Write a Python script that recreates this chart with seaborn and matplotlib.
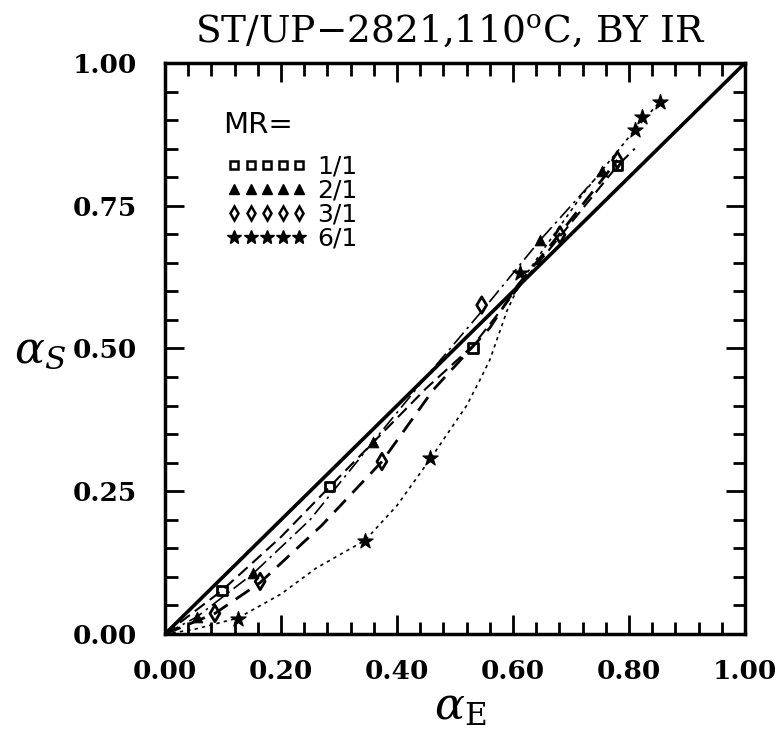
import matplotlib
matplotlib.use("Agg")
from matplotlib import pyplot as plt
from matplotlib.lines import Line2D
from matplotlib.ticker import MultipleLocator
import seaborn as sns

sq_x = [0.098, 0.284, 0.531, 0.780]
sq_y = [0.076, 0.258, 0.501, 0.820]
tri_x = [0.055, 0.152, 0.359, 0.647, 0.753]
tri_y = [0.030, 0.106, 0.337, 0.690, 0.810]
dia_x = [0.086, 0.164, 0.374, 0.546, 0.681, 0.780]
dia_y = [0.036, 0.092, 0.302, 0.576, 0.699, 0.830]
star_x = [0.126, 0.345, 0.457, 0.612, 0.810, 0.822, 0.853]
star_y = [0.027, 0.162, 0.308, 0.632, 0.883, 0.905, 0.932]

# fitted curves
c11_x = [0.0, 0.098, 0.20, 0.284, 0.45, 0.531, 0.62, 0.70, 0.78, 0.81]
c11_y = [0.0, 0.076, 0.17, 0.258, 0.43, 0.505, 0.62, 0.72, 0.82, 0.85]
c21_x = [0.0, 0.055, 0.152, 0.25, 0.359, 0.45, 0.55, 0.647, 0.753]
c21_y = [0.0, 0.030, 0.106, 0.20, 0.337, 0.45, 0.57, 0.690, 0.810]
c31_x = [0.0, 0.086, 0.164, 0.27, 0.374, 0.462, 0.56, 0.606, 0.68, 0.78]
c31_y = [0.0, 0.036, 0.090, 0.19, 0.302, 0.427, 0.536, 0.608, 0.70, 0.83]
c61_x = [0.0, 0.05, 0.126, 0.20, 0.26, 0.345, 0.40, 0.457, 0.52, 0.543, 0.56, 0.59, 0.612, 0.65, 0.72, 0.81, 0.853]
c61_y = [0.0, 0.008, 0.028, 0.07, 0.115, 0.164, 0.225, 0.306, 0.40, 0.445, 0.48, 0.567, 0.614, 0.67, 0.77, 0.883, 0.932]
diag = [0.0, 1.0]

labels = ["1/1", "2/1", "3/1", "6/1"]

sns.set_style("ticks")
plt.rcParams["mathtext.fontset"] = "dejavuserif"
plt.rcParams["text.color"] = "black"
plt.rcParams["xtick.color"] = "black"
plt.rcParams["ytick.color"] = "black"
plt.rcParams["axes.labelcolor"] = "black"

fig = plt.figure(figsize=(7.77, 7.36), dpi=100)
ax = fig.add_axes([0.2124, 0.1386, 0.7464, 0.7758])

sns.lineplot(x=diag, y=diag, ax=ax, color="black", lw=2.6)
sns.lineplot(x=c11_x, y=c11_y, ax=ax, color="black", lw=1.5, sort=False,
             linestyle=(0, (6, 3)))
sns.lineplot(x=c21_x, y=c21_y, ax=ax, color="black", lw=1.2, sort=False,
             linestyle=(0, (9, 3, 1.5, 3)))
sns.lineplot(x=c31_x, y=c31_y, ax=ax, color="black", lw=2.0, sort=False,
             linestyle=(0, (6, 3.5)))
sns.lineplot(x=c61_x, y=c61_y, ax=ax, color="black", lw=1.2, sort=False,
             linestyle=(0, (2, 2.5)))

sns.scatterplot(x=sq_x, y=sq_y, ax=ax, marker="s", s=45, facecolor="none",
                edgecolor="black", linewidth=2, zorder=5)
sns.scatterplot(x=tri_x, y=tri_y, ax=ax, marker="^", s=60, color="black",
                edgecolor="black", zorder=5)
sns.scatterplot(x=dia_x, y=dia_y, ax=ax, marker="d", s=70, facecolor="none",
                edgecolor="black", linewidth=2, zorder=5)
sns.scatterplot(x=star_x, y=star_y, ax=ax, marker="*", s=130, color="black",
                edgecolor="black", zorder=5)

ax.set_xlim(0, 1)
ax.set_ylim(0, 1)
ax.xaxis.set_major_locator(MultipleLocator(0.2))
ax.xaxis.set_minor_locator(MultipleLocator(0.04))
ax.yaxis.set_major_locator(MultipleLocator(0.25))
ax.yaxis.set_minor_locator(MultipleLocator(0.05))
ax.xaxis.set_major_formatter(plt.FormatStrFormatter("%.2f"))
ax.yaxis.set_major_formatter(plt.FormatStrFormatter("%.2f"))
ax.tick_params(which="both", direction="in", top=True, right=True, width=2, color="black")
ax.tick_params(which="major", length=14, labelsize=19)
ax.tick_params(axis="x", which="major", pad=18)
ax.tick_params(axis="y", which="major", pad=20)
ax.tick_params(which="minor", length=9)
for lab in ax.get_xticklabels() + ax.get_yticklabels():
    lab.set_fontfamily("DejaVu Serif")
    lab.set_fontweight("bold")
for sp in ax.spines.values():
    sp.set_linewidth(2.5)
    sp.set_color("black")

fig.text(0.579, 0.957, r"ST/UP$-$2821,110$^{\mathrm{o}}$C, BY IR", ha="center", va="center",
         fontsize=27, family="DejaVu Serif")
fig.text(0.592, 0.040, r"$\alpha_{\mathrm{E}}$", ha="center", va="center", fontsize=32)
fig.text(0.052, 0.523, r"$\alpha_{S}$", ha="center", va="center", fontsize=32)

ax.text(0.10, 0.891, "MR=", transform=ax.transAxes, fontsize=21, va="center", ha="left")
handles = [
    Line2D([], [], ls="none", marker="s", mfc="none", mec="black", mew=1.8, ms=6),
    Line2D([], [], ls="none", marker="^", color="black", ms=7),
    Line2D([], [], ls="none", marker="d", mfc="none", mec="black", mew=1.8, ms=7),
    Line2D([], [], ls="none", marker="*", color="black", ms=10),
]
ax.legend(handles, labels, numpoints=5, handlelength=3.2, handletextpad=0.4,
          labelspacing=0.0, frameon=False, fontsize=18, loc="upper left",
          bbox_to_anchor=(0.085, 0.862), borderpad=0.0)

fig.savefig("out.png", dpi=100)
